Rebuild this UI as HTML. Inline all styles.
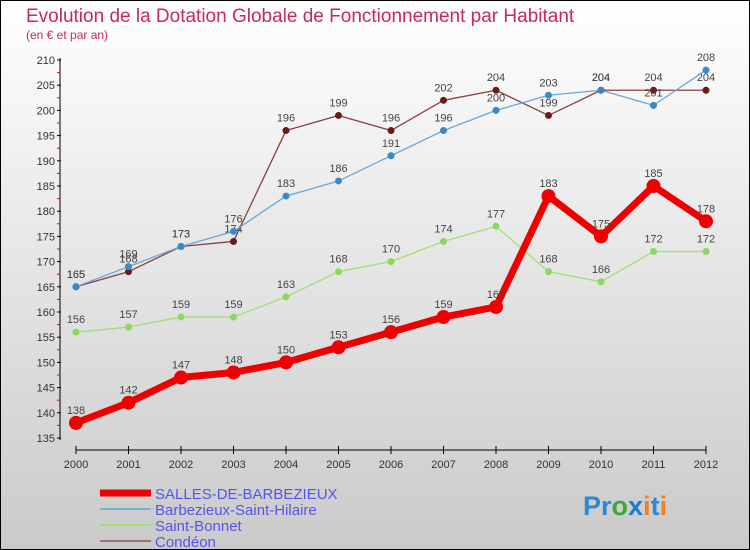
<!DOCTYPE html>
<html><head><meta charset="utf-8"><style>
body{margin:0}
svg{display:block;font-family:"Liberation Sans",sans-serif}
</style></head><body>
<svg width="750" height="550">
<defs><linearGradient id="bg" x1="0" y1="0" x2="0" y2="1"><stop offset="0" stop-color="#ffffff"/><stop offset="1" stop-color="#cacaca"/></linearGradient></defs>
<rect x="0.5" y="0.5" width="749" height="549" fill="url(#bg)" stroke="#000"/>
<text x="26" y="22" font-size="19" fill="#c8285a">Evolution de la Dotation Globale de Fonctionnement par Habitant</text>
<text x="26" y="39" font-size="12" fill="#c8285a">(en € et par an)</text>
<g id="axes"></g>
<g id="series"></g>
<g id="legend"></g>
<text x="583" y="515" font-size="27" font-weight="bold"><tspan fill="#2a8ad8">Pr</tspan><tspan fill="#3aa83a">o</tspan><tspan fill="#1a7ad0">x</tspan><tspan fill="#f08020">i</tspan><tspan fill="#2a8ad8">t</tspan><tspan fill="#f08020">i</tspan></text>
</svg>
<script>
const years=[2000,2001,2002,2003,2004,2005,2006,2007,2008,2009,2010,2011,2012];
const salles=[138,142,147,148,150,153,156,159,161,183,175,185,178];
const barbezieux=[165,169,173,176,183,186,191,196,200,203,204,201,208];
const saintBonnet=[156,157,159,159,163,168,170,174,177,168,166,172,172];
const condeon=[165,168,173,174,196,199,196,202,204,199,204,204,204];
const yTicks=[135,140,145,150,155,160,165,170,175,180,185,190,195,200,205,210];
const NS="http://www.w3.org/2000/svg";
const xS=i=>76+i*52.5;
const yS=v=>438-(v-135)*5.04;
function mk(t,a,p){const e=document.createElementNS(NS,t);for(const k in a)e.setAttribute(k,a[k]);p.appendChild(e);return e;}
const ax=document.getElementById('axes');
let l=mk('line',{x1:60,y1:58,x2:60,y2:440,stroke:'#000'},ax);


l=mk('line',{x1:76,y1:450,x2:706,y2:450,stroke:'#000'},ax);


yTicks.forEach(v=>{
 mk('line',{x1:57,y1:yS(v),x2:61,y2:yS(v),stroke:'#000'},ax);
 if(v<210)mk('line',{x1:57,y1:yS(v+2.5),x2:60,y2:yS(v+2.5),stroke:'#e00'},ax);
 const t=mk('text',{x:55,y:yS(v)+4,'font-size':11,fill:'#333','text-anchor':'end'},ax);
 t.textContent=v;
 
 
});
years.forEach((y,i)=>{
 mk('line',{x1:xS(i),y1:446,x2:xS(i),y2:454,stroke:'#000'},ax);
 const t=mk('text',{x:xS(i),y:468,'font-size':11,fill:'#333','text-anchor':'middle'},ax);
 t.textContent=y;
 
 
});
const sg=document.getElementById('series');
const defs=[
 {d:condeon,c:'#6b1a1a',lc:'#8a4040',w:1.3,r:3.5,n:'condeon'},
 {d:barbezieux,c:'#3a8ac8',lc:'#6aa8d8',w:1.3,r:3.5,n:'barbezieux-saint-hilaire'},
 {d:saintBonnet,c:'#8ad860',lc:'#a0e070',w:1.3,r:3.5,n:'saint-bonnet'},
 {d:salles,c:'#ee0000',lc:'#ee0000',w:7,r:7,n:'salles-de-barbezieux'}];
defs.forEach(s=>{
 const g=mk('g',{},sg);
 
 
 const p=mk('polyline',{points:s.d.map((v,i)=>xS(i)+','+yS(v)).join(' '),fill:'none',stroke:s.lc,'stroke-width':s.w,'stroke-linejoin':'round'},g);
 
 
 s.d.forEach((v,i)=>{
  const c=mk('circle',{cx:xS(i),cy:yS(v),r:s.r,fill:s.c},g);
  
  
  const t=mk('text',{x:xS(i),y:yS(v)-9,'font-size':11,fill:'#444','text-anchor':'middle'},g);
  t.textContent=v;
  
  
 });
});
const lg=document.getElementById('legend');
const legs=[['SALLES-DE-BARBEZIEUX','#ee0000',7],['Barbezieux-Saint-Hilaire','#7ab0d8',2],['Saint-Bonnet','#a0e070',2],['Condéon','#a07070',2]];
legs.forEach((L,i)=>{
 const y=493+i*16;
 const g=mk('g',{},lg);
 
 
 mk('line',{x1:100,y1:y,x2:151,y2:y,stroke:L[1],'stroke-width':L[2]},g);
 const t=mk('text',{x:155,y:y+6,'font-size':15,fill:'#5555ee'},g);
 t.textContent=L[0];
});
</script>
</body></html>
